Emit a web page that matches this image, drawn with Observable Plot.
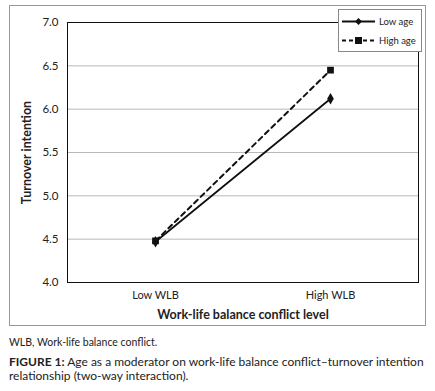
<!DOCTYPE html>
<html><head><meta charset="utf-8">
<script src="https://cdn.jsdelivr.net/npm/d3@7"></script>
<script src="https://cdn.jsdelivr.net/npm/@observablehq/plot@0.6"></script>
<style>
body{margin:0;background:#fff;font-family:Lato,"Open Sans",sans-serif;}
#page{position:relative;width:435px;height:391px;}
#box{position:absolute;left:9px;top:5px;width:417px;height:321px;border:1px solid #999;box-sizing:border-box;}
#chart{position:absolute;left:0;top:0;}
#legend{position:absolute;left:338px;top:9px;width:84px;height:43px;border:1px solid #888;background:#fff;box-sizing:border-box;font-size:9.5px;color:#222;}
#legend div{display:flex;align-items:center;height:19px;padding-left:3px;}
#legend div:first-child{margin-top:2px;}
#legend svg{margin-right:4px;}
#note{position:absolute;left:9px;top:336px;font-size:10.5px;line-height:13px;color:#222;font-family:Lato,sans-serif;}
.cap{position:absolute;left:9px;font-size:12px;line-height:14.5px;color:#222;font-family:Lato,sans-serif;white-space:nowrap;}
.cap span{display:inline-block;}
g[aria-label="y-axis label"] text, g[aria-label="x-axis label"] text{font-weight:bold;font-size:12.5px;}
</style></head>
<body>
<div id="page">
<div id="box"></div>
<div id="chart"></div>
<div id="legend"></div>
<div id="note">WLB, Work-life balance conflict.</div>
<div class="cap" style="top:354.5px"><span style="font-weight:bold">FIGURE 1:</span><span>&nbsp;Age as a moderator on work-life balance conflict–turnover intention</span></div>
<div class="cap" style="top:369px">relationship (two-way interaction).</div>
</div>
<script>
const categories = ["Low WLB", "High WLB"];
const seriesNames = ["Low age", "High age"];
const lowAge = [4.47, 6.12];
const highAge = [4.48, 6.45];
const yTicks = [4.0, 4.5, 5.0, 5.5, 6.0, 6.5, 7.0];

const data = [];
categories.forEach((c, i) => {
  data.push({cat: c, series: seriesNames[0], v: lowAge[i]});
  data.push({cat: c, series: seriesNames[1], v: highAge[i]});
});
const low = data.filter(d => d.series === "Low age");
const high = data.filter(d => d.series === "High age");

const chart = Plot.plot({
  width: 435, height: 330,
  marginLeft: 67, marginRight: 17, marginTop: 22, marginBottom: 48,
  style: {fontFamily: "Lato, 'Open Sans', sans-serif", fontSize: "11px", color: "#222", background: "transparent"},
  x: {type: "point", domain: categories, padding: 0.5, label: null},
  y: {domain: [4, 7], ticks: yTicks, tickFormat: d3.format(".1f"), label: null},
  marks: [
    Plot.gridY(yTicks.filter(t => t > 4 && t < 7), {stroke: "#b8b8b8", strokeOpacity: 1}),
    Plot.frame({stroke: "#111"}),
    Plot.axisY(yTicks, {tickSize: 0, tickPadding: 9, fontSize: 11.5, label: "Turnover intention", labelAnchor: "center", labelArrow: "none", labelOffset: 45}),
    Plot.axisX({tickSize: 0, tickPadding: 9, fontSize: 11, label: "Work-life balance conflict level", labelAnchor: "center", labelArrow: "none", labelOffset: 36}),
    Plot.line(high, {x: "cat", y: "v", stroke: "#111", strokeWidth: 2, strokeDasharray: "5,4"}),
    Plot.line(low, {x: "cat", y: "v", stroke: "#111", strokeWidth: 1.8}),
    Plot.dot(high, {x: "cat", y: "v", symbol: "square", fill: "#111", r: 3.8}),
    Plot.dot(low, {x: "cat", y: "v", symbol: "diamond", fill: "#111", r: 3.5})
  ]
});
document.getElementById("chart").appendChild(chart);

const legend = document.getElementById("legend");
seriesNames.forEach((name, i) => {
  const row = document.createElement("div");
  const dash = i === 1 ? 'stroke-dasharray="4,3"' : '';
  const marker = i === 1
    ? '<rect x="13" y="3" width="7" height="7" fill="#111"/>'
    : '<path d="M16.5 3 L20 6.5 L16.5 10 L13 6.5 Z" fill="#111"/>';
  row.innerHTML = `<svg width="33" height="13"><line x1="0" x2="33" y1="6.5" y2="6.5" stroke="#111" stroke-width="2" ${dash}/>${marker}</svg><span>${name}</span>`;
  legend.appendChild(row);
});
</script>
</body></html>
